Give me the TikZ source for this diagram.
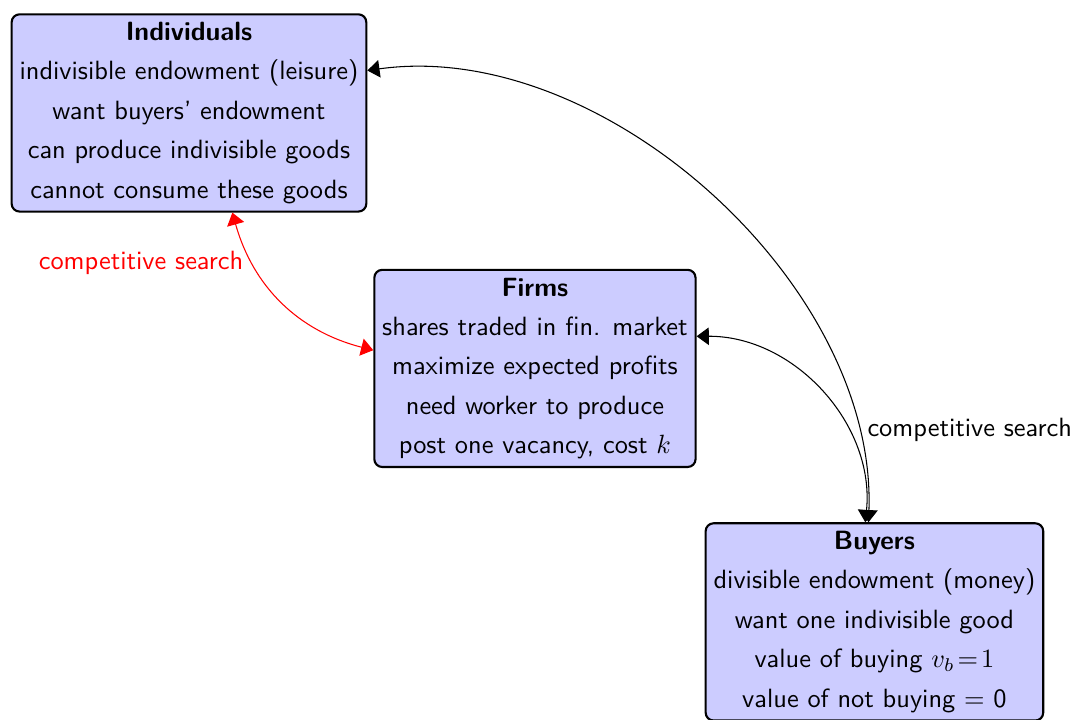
\documentclass[tikz,border=0pt]{standalone}
\usepackage{amsmath, amssymb}
\usepackage{tikz}
\usetikzlibrary{arrows.meta}
\usetikzlibrary{positioning}
\tikzset{
    agent/.style={
        draw,
        thick,
        rounded corners=3pt,
        fill=blue!20,
        align=center,
        inner sep=3pt,
        font=\sffamily\fontsize{10}{14.93}\selectfont
    },
    search/.style={
        draw,
        {Triangle[length=4.6pt, width=6.6pt]}-{Triangle[length=4.6pt, width=6.6pt]}
    },
    every node/.style={font=\sffamily}
}

\begin{document}
\begin{tikzpicture}
    \useasboundingbox (0,0) rectangle (14.352,9.585);
    % Agents
    \node[agent] (ind) at (2.516,8.081) {\textbf{Individuals}\\
        indivisible endowment (leisure)\\
        want buyers' endowment\\
        can produce indivisible goods\\
        cannot consume these goods};
    \node[agent] (firm) at (7.122,4.680) {\textbf{Firms}\\
        shares traded in fin. market\\
        maximize expected profits\\
        need worker to produce\\
        post one vacancy, cost $k$};
    \node[agent] (buy) at (11.642,1.305) {\textbf{Buyers}\\
        divisible endowment (money)\\
        want one indivisible good\\
        value of buying $v_b\!=\!1$\\
        value of not buying = 0};

    % Matching markets
    \draw[search, red] (ind) to[bend right=30] node[pos=0.25, left, red] {competitive search} (firm);
    \draw[search] (ind) to[bend left=50, looseness=0.9] node[pos=0.87, right] {competitive search} (buy);
    \draw[search] (firm) to[bend left=48] (buy);
\end{tikzpicture}
\end{document}
